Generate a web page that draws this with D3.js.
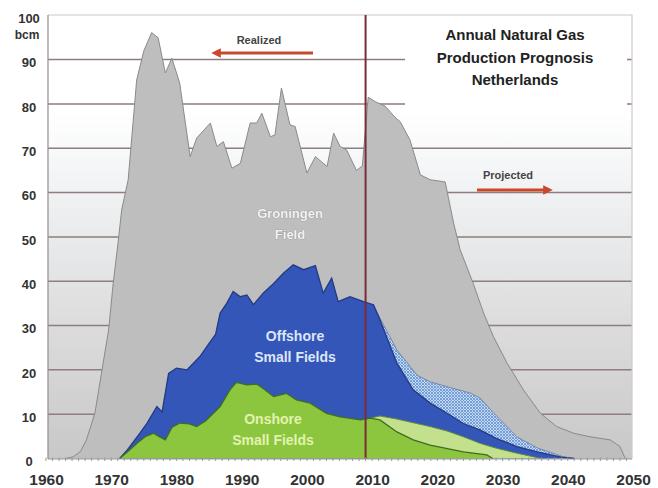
<!DOCTYPE html>
<html><head><meta charset="utf-8">
<script src="https://cdn.jsdelivr.net/npm/d3@7"></script>
<style>body{margin:0;background:#fff;} svg{display:block;font-family:"Liberation Sans",Arial,sans-serif;}</style>
</head><body><svg id="c" width="658" height="488"></svg>
<script>
// ---- data (bcm, cumulative stack tops) ----
const totalTop = [[1963,0],[1964.2,0.4],[1965.3,1.6],[1966.2,4.2],[1967.5,10.2],[1968.5,19.2],[1969.6,29],[1970.3,39.5],[1971.1,49.3],[1971.6,56.1],[1972.6,62.9],[1973.9,85.4],[1975,92],[1976.2,96.1],[1977.2,94.9],[1978.3,87],[1979.3,90.3],[1980.5,84.7],[1982.1,68.1],[1983.1,72.3],[1985.2,75.7],[1986.2,70.4],[1987.2,71.5],[1988.5,65.5],[1989.8,66.6],[1991.3,75.7],[1992.3,75.7],[1993.1,77.9],[1994.4,72.6],[1995.1,73],[1996.1,83.6],[1997.4,75.3],[1998.2,74.9],[2000,64.4],[2001.3,68.1],[2003.1,65.9],[2004.1,73.4],[2005.1,70.4],[2006.1,69.6],[2007.6,65],[2008.5,66],[2009.4,81.5],[2010.5,80.5],[2012,79.5],[2013.5,77],[2014.3,76],[2015.8,71.9],[2017.4,64],[2018.9,62.9],[2021.2,62.4],[2022.5,53.1],[2023.5,47.1],[2025.5,39.5],[2027.1,32.8],[2028.6,27.5],[2030.7,21.5],[2033.2,15.5],[2035.8,10.2],[2038.3,7.2],[2040.9,5.7],[2043.4,4.9],[2046.5,4.2],[2048,2.7],[2048.8,0]];
const offshoreTop = [[1971.3,0],[1972.5,2],[1974.4,5.7],[1975.5,8],[1977,11.7],[1977.8,10.5],[1978.8,19.2],[1980,20.4],[1981.6,20],[1982.6,21.5],[1983.6,23],[1985,26],[1986,28],[1986.7,32.8],[1987.7,35],[1988.7,37.7],[1989.8,36.5],[1990.8,36.9],[1991.8,34.7],[1993.3,37.3],[1994.9,39.5],[1996.4,41.8],[1997.9,43.7],[1999.5,42.6],[2001.3,43.5],[2002.5,37.3],[2003.8,40.7],[2004.8,35.4],[2006.6,36.5],[2008.7,35.4],[2010.2,34.7],[2011.2,31.3],[2013.8,21.5],[2016.3,15.5],[2018.9,12.5],[2021.5,10.2],[2024,7.9],[2026.6,6.4],[2029.1,4.5],[2032.2,2.7],[2035.3,1.5],[2039,0.3],[2041,0]];
const offshoreProjTop = [[2010.2,34.7],[2011.2,31.7],[2013.8,24.5],[2016.9,18.8],[2018.9,17.3],[2022,16],[2025,14.8],[2026.5,13.7],[2029.2,9.4],[2032.2,4.9],[2035.3,2.4],[2039.3,0.4],[2041,0]];
const onshoreTop = [[1971.3,0],[1972.5,1.5],[1974,3.5],[1975.3,5],[1976.5,5.7],[1977.3,5],[1978.3,4.2],[1979.3,7],[1980.5,8],[1982,7.8],[1983.1,7.2],[1984.5,8.5],[1985.5,10],[1986.7,11.7],[1988.2,15.5],[1989.2,17.2],[1990.8,16.6],[1992.3,16.8],[1993.3,15.8],[1994.9,14],[1996.9,14.7],[1998.4,13.2],[2000.5,12.5],[2003,10.2],[2005.1,9.4],[2008.2,8.7],[2009.7,9.1],[2011.2,8.7],[2013.8,6],[2016.3,4.2],[2018.9,3],[2024,1.5],[2027.6,0.8],[2028.5,0]];
const onshoreProjTop = [[2009.7,9.1],[2011.2,9.6],[2013.8,8.9],[2016.5,8],[2018.9,7.2],[2021.5,6.2],[2024,4.9],[2026.6,3.4],[2029.1,2.3],[2032.2,1.2],[2035,0.3],[2036,0]];
const yTicks = [0,10,20,30,40,50,60,70,80,90,100];
const xTicks = [1960,1970,1980,1990,2000,2010,2020,2030,2040,2050];
const splitYear = 2009;
const titleLines = ["Annual Natural Gas","Production Prognosis","Netherlands"];
const fieldLabels = {groningen:["Groningen","Field"], offshore:["Offshore","Small Fields"], onshore:["Onshore","Small Fields"]};

// ---- layout ----
const L = 48, R = 632, T = 15, B = 459;
const x = d3.scaleLinear().domain([1960,2050]).range([46,633]);
const y = d3.scaleLinear().domain([0,100]).range([458.5,15.3]);
const svg = d3.select("#c");
const defs = svg.append("defs");

const grad = defs.append("linearGradient").attr("id","bg").attr("x1",0).attr("y1",0).attr("x2",0).attr("y2",1);
[[0,"#ffffff"],[0.22,"#ffffff"],[0.42,"#eef0f2"],[0.7,"#dcdcdc"],[1,"#c8c8c8"]].forEach(([o,c])=>grad.append("stop").attr("offset",o).attr("stop-color",c));

const pat = defs.append("pattern").attr("id","hatch").attr("width",3).attr("height",3).attr("patternUnits","userSpaceOnUse");
pat.append("rect").attr("width",3).attr("height",3).attr("fill","#c4d9f2");
pat.append("path").attr("d","M0,0L3,3M3,0L0,3").attr("stroke","#6c97d6").attr("stroke-width",0.9);

const mk = (id) => {
  const m = defs.append("marker").attr("id",id).attr("viewBox","0 0 10 10").attr("refX",5).attr("refY",5)
    .attr("markerWidth",3.2).attr("markerHeight",3.2).attr("orient","auto");
  m.append("path").attr("d","M0,0L10,5L0,10Z").attr("fill","#c9482a");
};
mk("arr");

svg.append("rect").attr("x",L).attr("y",T).attr("width",R-L).attr("height",B-T).attr("fill","url(#bg)");

// gridlines
svg.append("g").selectAll("line").data(yTicks.filter(v=>v>0&&v<100)).join("line")
  .attr("x1",L).attr("x2",R).attr("y1",d=>y(d)).attr("y2",d=>y(d))
  .attr("stroke","#8e7e7c").attr("stroke-width",1.5);
// frame
svg.append("path").attr("d",`M${L},${T}H${R}V${B}`).attr("fill","none").attr("stroke","#d2c8c8").attr("stroke-width",1.2);

// title box
svg.append("rect").attr("x",405).attr("y",T+1).attr("width",222).attr("height",96).attr("fill","#ffffff");

const area = d3.area().x(d=>x(d[0])).y0(y(0)).y1(d=>y(d[1]));
const line = d3.line().x(d=>x(d[0])).y(d=>y(d[1]));

svg.append("path").datum(totalTop).attr("d",area).attr("fill","#bebebe");
svg.append("path").datum(totalTop).attr("d",line).attr("fill","none").attr("stroke","#8a8a8a").attr("stroke-width",1);

svg.append("path").datum(offshoreProjTop).attr("d",area).attr("fill","url(#hatch)");
svg.append("path").datum(offshoreProjTop).attr("d",line).attr("fill","none").attr("stroke","#7a8aa8").attr("stroke-width",1);

svg.append("path").datum(offshoreTop).attr("d",area).attr("fill","#3456b8");
svg.append("path").datum(offshoreTop).attr("d",line).attr("fill","none").attr("stroke","#233a85").attr("stroke-width",1.3);

svg.append("path").datum(onshoreProjTop).attr("d",area).attr("fill","#c3e08c");
svg.append("path").datum(onshoreProjTop).attr("d",line).attr("fill","none").attr("stroke","#5f8a3a").attr("stroke-width",1);

svg.append("path").datum(onshoreTop).attr("d",area).attr("fill","#8cc63f");
svg.append("path").datum(onshoreTop).attr("d",line).attr("fill","none").attr("stroke","#3f6d22").attr("stroke-width",1.3);

// split line
svg.append("line").attr("x1",x(splitYear)).attr("x2",x(splitYear)).attr("y1",T).attr("y2",B)
  .attr("stroke","#7a2c3c").attr("stroke-width",2);

// axes
svg.append("line").attr("x1",L).attr("x2",L).attr("y1",T).attr("y2",B).attr("stroke","#9a8c8c").attr("stroke-width",1.2);
svg.append("line").attr("x1",L).attr("x2",R).attr("y1",B).attr("y2",B).attr("stroke","#9a9a9a").attr("stroke-width",1);
svg.append("g").selectAll("line").data(d3.range(1960,2050)).join("line")
  .attr("x1",d=>x(d)).attr("x2",d=>x(d)).attr("y1",B-1.5).attr("y2",B+2)
  .attr("stroke","#9a9a9a").attr("stroke-width",1);

const xa = svg.append("g").attr("transform",`translate(0,${B})`)
  .call(d3.axisBottom(x).tickValues(xTicks).tickFormat(d3.format("d")).tickSize(0).tickPadding(15));
xa.select(".domain").remove();
xa.selectAll("text").attr("font-size",15.5).attr("font-weight","bold").attr("fill","#333")
  .attr("font-family","'Liberation Sans',Arial,sans-serif");

const ya = svg.append("g").attr("transform",`translate(${L},0)`)
  .call(d3.axisLeft(y).tickValues(yTicks).tickSize(0).tickPadding(11));
ya.select(".domain").remove();
ya.selectAll("text").attr("font-size",13).attr("font-weight","bold").attr("fill","#333")
  .attr("text-anchor","middle").attr("dx",-8).attr("dy","0.55em")
  .attr("font-family","'Liberation Sans',Arial,sans-serif");
svg.append("text").attr("x",27).attr("y",39).attr("text-anchor","middle").attr("font-size",12).attr("font-weight","bold").attr("fill","#333").text("bcm");

// title
svg.append("g").selectAll("text").data(titleLines).join("text")
  .attr("x",515).attr("y",(d,i)=>40+i*22.5).attr("text-anchor","middle")
  .attr("font-size",15).attr("font-weight","bold").attr("fill","#222").text(d=>d);

// realized / projected
svg.append("text").attr("x",259).attr("y",44).attr("text-anchor","middle").attr("font-size",11).attr("font-weight","bold").attr("fill","#444").text("Realized");
svg.append("line").attr("x1",313).attr("x2",216).attr("y1",53).attr("y2",53).attr("stroke","#c9482a").attr("stroke-width",3).attr("marker-end","url(#arr)");
svg.append("text").attr("x",508).attr("y",179).attr("text-anchor","middle").attr("font-size",11).attr("font-weight","bold").attr("fill","#444").text("Projected");
svg.append("line").attr("x1",477).attr("x2",548).attr("y1",190).attr("y2",190).attr("stroke","#c9482a").attr("stroke-width",3).attr("marker-end","url(#arr)");

// field labels
const lbl = (lines, cx, y0, fill, size, stroke) => svg.append("g").selectAll("text").data(lines).join("text")
  .attr("x",cx).attr("y",(d,i)=>y0+i*21).attr("text-anchor","middle").attr("font-size",size).attr("font-weight","bold")
  .attr("fill",fill).attr("stroke",stroke||"none").attr("stroke-width",stroke?0.7:0).attr("paint-order","stroke").text(d=>d);
lbl(fieldLabels.groningen, 290, 218, "#f2f2f2", 13, "#8f8f8f");
lbl(fieldLabels.offshore, 295, 341, "#dde6f8", 14);
lbl(fieldLabels.onshore, 273, 424, "#e3f2b0", 14);
</script></body></html>
